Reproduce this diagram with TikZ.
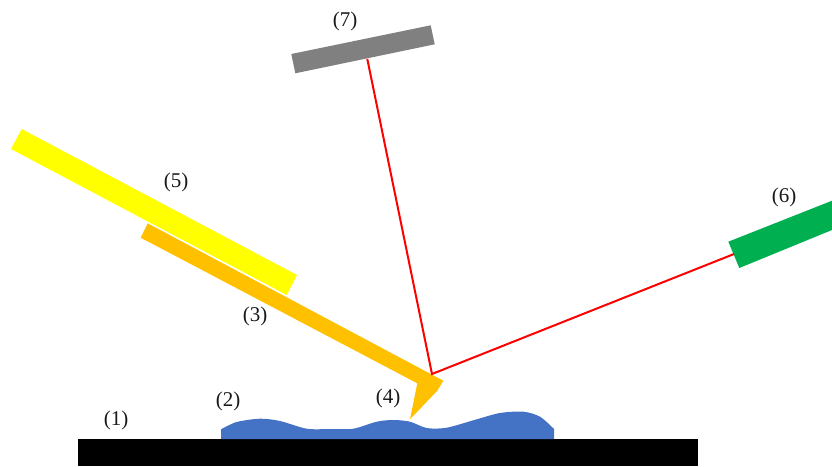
\documentclass[tikz,border=0pt]{standalone}
\usepackage{fontspec}
\setmainfont{Liberation Serif}
\definecolor{cyellow}{RGB}{255,255,0}
\definecolor{corange}{RGB}{255,192,0}
\definecolor{cgrey}{RGB}{128,128,128}
\definecolor{cgreen}{RGB}{0,176,80}
\definecolor{cblue}{RGB}{68,114,196}
\definecolor{cred}{RGB}{255,0,0}
\tikzset{
  lbl/.style={inner sep=0pt,font=\fontsize{21}{23}\selectfont,text=black!90},
  beam/.style={draw=cred,line width=2pt,line join=miter}
}
\begin{document}
\begin{tikzpicture}[x=1pt,y=-1pt]
\useasboundingbox (0,0) rectangle (832,466);
\fill[black] (78,439) rectangle (698,466);
\fill[cblue] (221,439) -- plot[smooth,tension=0.5] coordinates {(221,429.3) (236.7,422) (260,418.7) (280,421) (306.7,428.7) (330,429) (353.3,428.7) (376.7,421.7) (393.3,420) (410,421.7) (426.7,428) (446.7,427.7) (476.7,419.3) (500,413) (523.3,411.7) (540,416.7) (554,429)} -- (554,439) -- cycle;
\fill[corange] (147.7,223.3) -- (443.3,380.7) -- (437.3,390.7) -- (410,419.3) -- (417.3,383.3) -- (140.7,237.7) -- cycle;
\fill[cyellow] (21.7,129) -- (297,275) -- (286.7,295) -- (11,149) -- cycle;
\fill[cgrey] (291.3,54) -- (430.7,25.3) -- (434.7,44.3) -- (295.3,73.3) -- cycle;
\fill[cgreen] (728.3,241.7) -- (832,200.7) -- (832,230) -- (739.3,268) -- cycle;
\coordinate (mirror) at (367.3,59);
\coordinate (spot) at (432,374);
\coordinate (laser) at (734,254);
\draw[beam] (mirror) -- (spot) -- (laser);
\node[lbl] (n1) at (116,420) {(1)};
\node[lbl] (n2) at (228,401) {(2)};
\node[lbl] (n3) at (255,316) {(3)};
\node[lbl] (n4) at (388,398) {(4)};
\node[lbl] (n5) at (176,182) {(5)};
\node[lbl] (n6) at (784,197) {(6)};
\node[lbl] (n7) at (345,21) {(7)};
\end{tikzpicture}
\end{document}
